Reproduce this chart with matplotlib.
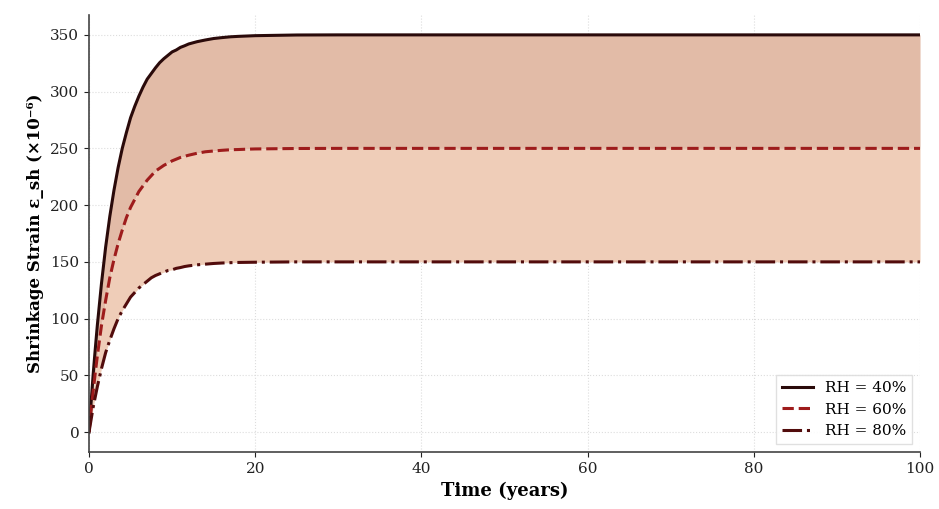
import matplotlib
matplotlib.use("Agg")
import matplotlib.pyplot as plt

plt.rcParams['font.family'] = ['DejaVu Serif']

# time in years, shrinkage strain (x10^-6)
years = [0, 0.25, 0.5, 0.75, 1, 1.5, 2, 2.5, 3, 3.5, 4,
         4.5, 5, 5.5, 6, 6.5, 7, 7.5, 8, 8.5, 9, 9.5, 10, 10.5, 11, 11.5, 12,
         13, 14, 15, 16, 17, 18, 19, 20, 25, 30, 40, 60, 80, 100]
rh40 = [0, 26, 51, 73, 94, 131, 163, 190, 213, 233, 250,
        264, 277, 287, 296, 304, 311, 316, 321, 325.5, 329, 332, 335, 336.7, 339, 340.4, 342,
        344, 345.5, 346.8, 347.6, 348.3, 348.7, 349, 349.3, 349.9, 350, 350, 350, 350, 350]
rh60 = [0, 19, 36, 52, 67, 94, 116, 136, 152, 166, 178,
        189, 198, 205, 212, 217, 222, 226, 230, 232.5, 235, 237, 239, 240.5, 242, 243, 244,
        245.7, 247, 247.7, 248.3, 248.8, 249, 249.3, 249.5, 249.9, 250, 250, 250, 250, 250]
rh80 = [0, 11, 22, 31, 40, 56, 70, 81, 91, 100, 107,
        113, 119, 123, 127, 130, 133, 136, 138, 139.5, 141, 142.4, 143, 144.3, 145, 145.9, 146.5,
        147.4, 148, 148.6, 149, 149.3, 149.5, 149.6, 149.7, 150, 150, 150, 150, 150, 150]

fig = plt.figure(figsize=(9.39, 5.09), dpi=100)
ax = fig.add_axes([0.0948, 0.112, 0.885, 0.8585])

ax.fill_between(years, rh60, rh40, color='#e2bba7', lw=0)
ax.fill_between(years, rh80, rh60, color='#efcdb8', lw=0)

ax.plot(years, rh40, color='#2a0a0a', lw=2.2, ls='-', label='RH = 40%',
        solid_joinstyle='round')
ax.plot(years, rh60, color='#9e1c1c', lw=2.2, ls='--', label='RH = 60%',
        dash_joinstyle='round')
ax.plot(years, rh80, color='#520c0c', lw=2.2, ls='-.', label='RH = 80%',
        dash_joinstyle='round')

ax.set_xlim(0, 100)
ax.set_ylim(-17.5, 367.5)
ax.set_yticks(range(0, 351, 50))

ax.grid(True, color='#dddddd', ls=':', lw=0.8)
ax.set_axisbelow(True)
for s in ['top', 'right']:
    ax.spines[s].set_visible(False)
for s in ['left', 'bottom']:
    ax.spines[s].set_color('#444444')
    ax.spines[s].set_linewidth(1.2)
ax.tick_params(labelsize=11, colors='#222222')

ax.set_xlabel('Time (years)', fontsize=13, fontweight='bold')
ax.set_ylabel('Shrinkage Strain ε_sh (×10⁻⁶)', fontsize=12, fontweight='bold')

ax.legend(loc='lower right', fontsize=11, frameon=True, framealpha=0.9,
          edgecolor='#dddddd', fancybox=False)

fig.savefig('out.png', dpi=100)
